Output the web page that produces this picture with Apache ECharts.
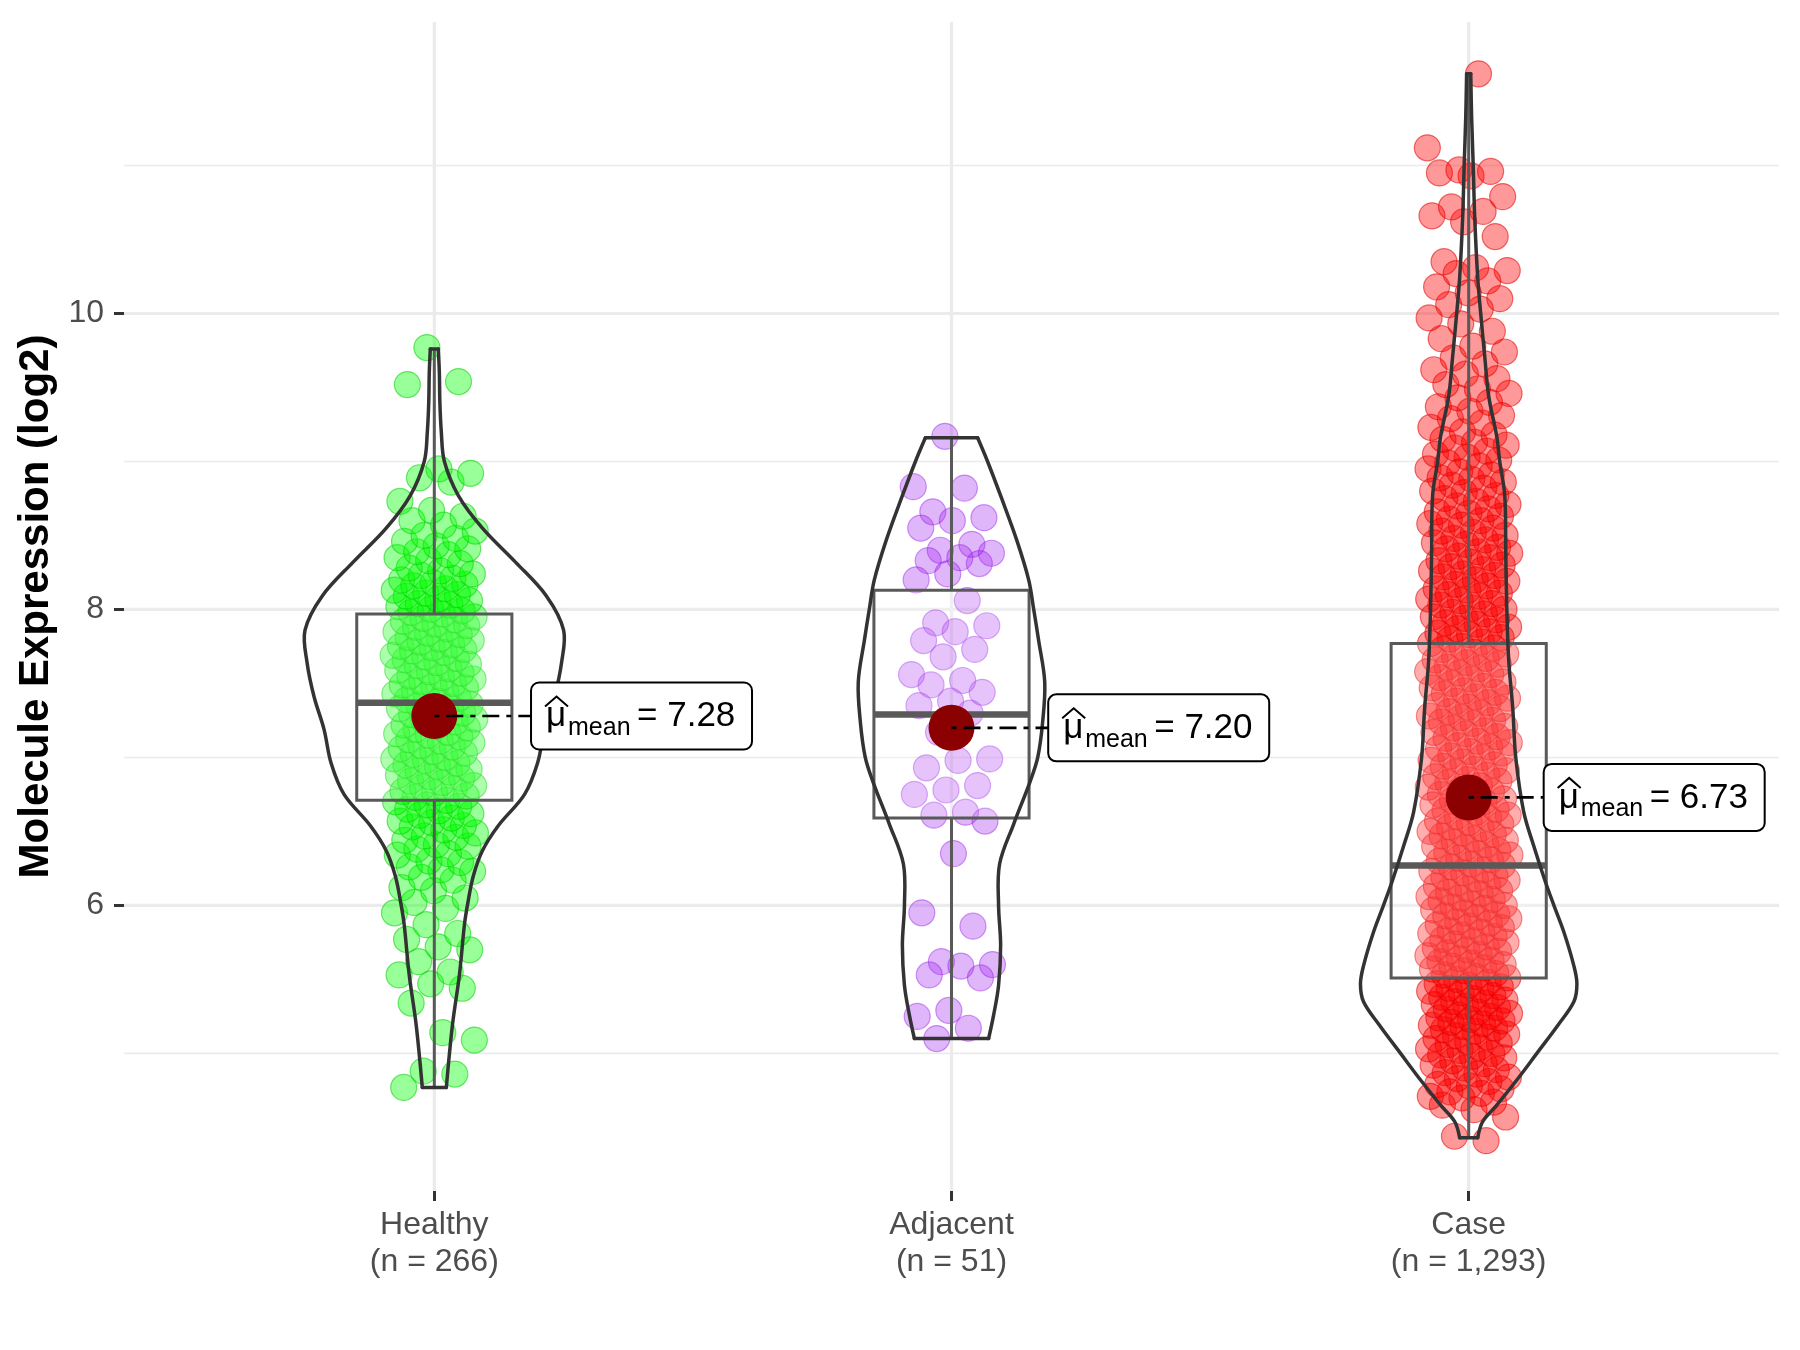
<!DOCTYPE html>
<html>
<head>
<meta charset="utf-8">
<script src="https://cdn.jsdelivr.net/npm/echarts@6/dist/echarts.min.js"></script>
<style>
html,body{margin:0;padding:0;background:#fff;}
#chart{width:1800px;height:1350px;}
</style>
</head>
<body>
<div id="chart"></div>
<script>
// ---------------- DATA ----------------
const categories = ['Healthy', 'Adjacent', 'Case'];
const sampleSizes = ['266', '51', '1,293'];
const yTicks = [6, 8, 10];
const yMinorGrid = [5, 7, 9, 11];

const means = [7.28, 7.20, 6.73];
const meanLabels = ['7.28', '7.20', '6.73'];

const boxQ1 = [6.71, 6.59, 5.51];
const boxMedian = [7.37, 7.29, 6.27];
const boxQ3 = [7.97, 8.13, 7.77];
const whiskerLow = [4.77, 5.10, 4.43];
const whiskerHigh = [9.76, 9.16, 11.62];

// violin outline: expression levels and relative density (1 = widest violin)
const healthyViolinY = [9.76, 9.6, 9.4, 9.2, 9.0, 8.77, 8.55, 8.32, 8.09, 7.86, 7.64, 7.41, 7.19, 6.96, 6.75, 6.54, 6.37, 6.2, 6.0, 5.87, 5.53, 5.19, 4.77];
const healthyViolinD = [0.031, 0.039, 0.043, 0.054, 0.078, 0.186, 0.372, 0.628, 0.868, 1.0, 0.984, 0.930, 0.853, 0.798, 0.698, 0.496, 0.372, 0.302, 0.256, 0.233, 0.194, 0.140, 0.093];
const adjacentViolinY = [9.16, 9.0, 8.75, 8.47, 8.20, 8.0, 7.79, 7.51, 7.24, 7.0, 6.83, 6.55, 6.28, 6.0, 5.73, 5.46, 5.26, 5.10];
const adjacentViolinD = [0.202, 0.279, 0.388, 0.504, 0.597, 0.636, 0.674, 0.721, 0.705, 0.667, 0.605, 0.481, 0.372, 0.364, 0.380, 0.364, 0.326, 0.287];
const caseViolinY = [11.62, 11.32, 11.0, 10.64, 10.24, 10.0, 9.71, 9.44, 9.17, 9.0, 8.77, 8.36, 8.0, 7.65, 7.33, 7.0, 6.63, 6.40, 6.17, 6.0, 5.82, 5.59, 5.47, 5.35, 5.19, 5.0, 4.82, 4.65, 4.54, 4.43];
const caseViolinD = [0.016, 0.023, 0.035, 0.047, 0.070, 0.093, 0.124, 0.155, 0.217, 0.240, 0.279, 0.287, 0.295, 0.310, 0.341, 0.364, 0.426, 0.504, 0.589, 0.659, 0.736, 0.814, 0.837, 0.814, 0.690, 0.527, 0.372, 0.217, 0.109, 0.070];

// observed expression values (read from the plotted points)
const healthyValues = [
4.77, 4.86, 4.88, 5.09, 5.14, 5.34, 5.44, 5.47, 5.53, 5.55, 5.62, 5.70, 5.72, 5.77, 5.81, 5.87, 5.95, 5.98,
6.02, 6.05, 6.10, 6.12, 6.17, 6.19, 6.23, 6.24,
6.26, 6.29, 6.30, 6.34, 6.35, 6.38, 6.40, 6.41, 6.44, 6.46, 6.47, 6.49,
6.51, 6.53, 6.54, 6.56, 6.57, 6.59, 6.61, 6.62, 6.64, 6.65, 6.67, 6.68, 6.70, 6.71, 6.73, 6.74,
6.76, 6.77, 6.79, 6.80, 6.81, 6.83, 6.84, 6.86, 6.87, 6.88, 6.90, 6.91, 6.92, 6.94, 6.95, 6.96, 6.98, 6.99,
7.00, 7.02, 7.03, 7.04, 7.06, 7.07, 7.08, 7.10, 7.11, 7.12, 7.14, 7.15, 7.16, 7.17, 7.19, 7.20, 7.21, 7.22, 7.24, 7.25,
7.26, 7.27, 7.29, 7.30, 7.31, 7.33, 7.34, 7.35, 7.36, 7.38, 7.39, 7.40, 7.42, 7.43, 7.44, 7.45, 7.47, 7.48, 7.49, 7.50,
7.51, 7.53, 7.54, 7.55, 7.57, 7.58, 7.59, 7.60, 7.62, 7.63, 7.64, 7.66, 7.67, 7.68, 7.69, 7.71, 7.72, 7.73, 7.74, 7.75,
7.76, 7.78, 7.79, 7.80, 7.81, 7.83, 7.84, 7.85, 7.87, 7.88, 7.89, 7.90, 7.92, 7.93, 7.94, 7.95, 7.97, 7.98, 7.99, 8.00,
8.02, 8.03, 8.04, 8.06, 8.07, 8.09, 8.10, 8.11, 8.13, 8.14, 8.16, 8.17, 8.18, 8.20, 8.21, 8.23, 8.24,
8.26, 8.28, 8.31, 8.33, 8.35, 8.37, 8.39, 8.41, 8.43, 8.46, 8.48, 8.50,
8.53, 8.57, 8.60, 8.63, 8.67, 8.73,
8.86, 8.89, 8.92, 8.95,
9.52, 9.54, 9.77
];
const adjacentValues = [
9.17, 8.83, 8.82, 8.66, 8.62, 8.60, 8.55, 8.44, 8.40, 8.38, 8.35, 8.33, 8.31, 8.24, 8.20, 8.06,
7.91, 7.89, 7.85, 7.79, 7.73, 7.68, 7.56, 7.52, 7.49, 7.44, 7.38, 7.35, 7.30, 7.17,
6.99, 6.98, 6.93, 6.81, 6.78, 6.75, 6.63, 6.61, 6.57, 6.35,
5.95, 5.86, 5.62, 5.60, 5.59, 5.53, 5.51, 5.29, 5.25, 5.17, 5.10
];
const caseValues = [
4.41, 4.44,
4.57, 4.62, 4.65, 4.67, 4.70, 4.71, 4.73, 4.74,
4.76, 4.78, 4.79, 4.81, 4.83, 4.84, 4.86, 4.87, 4.89, 4.90, 4.92, 4.93, 4.95, 4.97, 4.98, 4.99,
5.00, 5.02, 5.03, 5.04, 5.06, 5.07, 5.08, 5.10, 5.11, 5.12, 5.13, 5.15, 5.16, 5.17, 5.18, 5.19, 5.20, 5.21, 5.22, 5.23, 5.24,
5.25, 5.26, 5.27, 5.28, 5.30, 5.31, 5.32, 5.33, 5.34, 5.35, 5.36, 5.37, 5.38, 5.39, 5.41, 5.42, 5.43, 5.44, 5.45, 5.46, 5.47, 5.48,
5.50, 5.51, 5.52, 5.53, 5.54, 5.56, 5.57, 5.58, 5.59, 5.60, 5.61, 5.62, 5.63, 5.64, 5.66, 5.67, 5.68, 5.69, 5.70, 5.71, 5.72, 5.74,
5.75, 5.76, 5.77, 5.79, 5.80, 5.81, 5.82, 5.83, 5.85, 5.86, 5.87, 5.88, 5.89, 5.91, 5.92, 5.93, 5.94, 5.95, 5.97, 5.98, 5.99,
6.00, 6.01, 6.03, 6.04, 6.05, 6.06, 6.08, 6.09, 6.10, 6.11, 6.13, 6.14, 6.15, 6.17, 6.18, 6.19, 6.20, 6.22, 6.23, 6.24,
6.26, 6.27, 6.28, 6.30, 6.31, 6.32, 6.34, 6.35, 6.36, 6.37, 6.39, 6.40, 6.41, 6.43, 6.44, 6.45, 6.47, 6.48, 6.49,
6.50, 6.52, 6.53, 6.55, 6.56, 6.57, 6.59, 6.60, 6.61, 6.63, 6.64, 6.65, 6.67, 6.68, 6.70, 6.71, 6.72, 6.74,
6.75, 6.77, 6.78, 6.80, 6.81, 6.83, 6.84, 6.85, 6.87, 6.88, 6.90, 6.91, 6.92, 6.94, 6.95, 6.97, 6.98,
7.00, 7.01, 7.03, 7.04, 7.06, 7.07, 7.08, 7.10, 7.11, 7.13, 7.14, 7.16, 7.17, 7.18, 7.20, 7.21, 7.23, 7.24,
7.25, 7.27, 7.28, 7.30, 7.31, 7.33, 7.34, 7.35, 7.37, 7.38, 7.40, 7.41, 7.43, 7.44, 7.45, 7.47, 7.48,
7.50, 7.51, 7.53, 7.54, 7.56, 7.57, 7.58, 7.60, 7.61, 7.63, 7.64, 7.66, 7.67, 7.68, 7.70, 7.71, 7.73, 7.74,
7.75, 7.77, 7.78, 7.80, 7.81, 7.83, 7.84, 7.85, 7.87, 7.88, 7.90, 7.91, 7.93, 7.94, 7.95, 7.97, 7.98,
8.00, 8.01, 8.03, 8.04, 8.06, 8.07, 8.09, 8.10, 8.11, 8.13, 8.14, 8.16, 8.17, 8.19, 8.20, 8.22, 8.23, 8.24,
8.26, 8.27, 8.29, 8.30, 8.32, 8.33, 8.35, 8.36, 8.38, 8.39, 8.41, 8.42, 8.44, 8.45, 8.47, 8.48,
8.50, 8.52, 8.53, 8.55, 8.57, 8.58, 8.60, 8.61, 8.63, 8.65, 8.66, 8.68, 8.70, 8.71, 8.73,
8.75, 8.77, 8.79, 8.80, 8.82, 8.84, 8.86, 8.88, 8.89, 8.91, 8.93, 8.95, 8.97, 8.99,
9.01, 9.03, 9.05, 9.07, 9.09, 9.11, 9.13, 9.15, 9.18, 9.20, 9.23,
9.26, 9.29, 9.31, 9.34, 9.37, 9.40, 9.43, 9.46, 9.49,
9.52, 9.56, 9.59, 9.62, 9.66, 9.70, 9.74,
9.78, 9.83, 9.88, 9.93, 9.97,
10.03, 10.06, 10.10, 10.14, 10.18, 10.22, 10.27, 10.29, 10.31, 10.35, 10.52, 10.62, 10.66, 10.69, 10.72, 10.79,
10.93, 10.95, 10.96, 10.97, 11.12, 11.62
];

// ---------------- BUILD ----------------
const FONT = '"Liberation Sans", Arial, Helvetica, sans-serif';
const xLabels = categories.map((c, i) => c + '\n(n = ' + sampleSizes[i] + ')');
const groupValues = [healthyValues, adjacentValues, caseValues];
const violinY = [healthyViolinY, adjacentViolinY, caseViolinY];
const violinD = [healthyViolinD, adjacentViolinD, caseViolinD];
const pointColors = [
  {fill: 'rgba(0,255,0,0.40)', stroke: 'rgba(0,210,0,0.55)'},
  {fill: 'rgba(160,32,240,0.33)', stroke: 'rgba(150,30,230,0.45)'},
  {fill: 'rgba(255,0,0,0.40)', stroke: 'rgba(225,0,0,0.55)'}
];
const JITTER = 0.08;        // half jitter width in category units
const VIOLIN_HALF = 0.25;   // max half-width of violin (category units)
const BOX_HALF = 0.15;      // half width of box
const labelNudge = [0.187, 0.187, 0.145];

function jitterOffset(i, seed) {
  const f = (i * 0.6180339887 + seed) % 1;
  return (f - 0.5) * 2 * JITTER;
}

const gridRows = [];
yTicks.forEach(v => gridRows.push([v, 1, 0]));
yMinorGrid.forEach(v => gridRows.push([v, 0, 0]));
[1, 2, 3].forEach(v => gridRows.push([v, 1, 1]));

const pointSeries = groupValues.map((vals, g) => ({
  type: 'scatter',
  z: 2,
  symbol: 'circle',
  symbolSize: 26,
  silent: true,
  itemStyle: {color: pointColors[g].fill, borderColor: pointColors[g].stroke, borderWidth: 1.2, opacity: 1},
  data: vals.map((v, i) => [g + 1 + jitterOffset(i, 0.13 + g * 0.29), v])
}));

const option = {
  animation: false,
  backgroundColor: '#ffffff',
  textStyle: {fontFamily: FONT},
  grid: {left: 124, right: 21, top: 22, bottom: 159, containLabel: false},
  xAxis: {
    type: 'value', min: 0.4, max: 3.6,
    axisLine: {show: false},
    splitLine: {show: false},
    axisTick: {show: true, customValues: [1, 2, 3], length: 10, lineStyle: {color: '#333333', width: 3}},
    axisLabel: {
      customValues: [1, 2, 3],
      formatter: v => xLabels[Math.round(v) - 1],
      fontSize: 32, lineHeight: 37, color: '#4D4D4D', margin: 16, fontFamily: FONT
    }
  },
  yAxis: {
    type: 'value', min: 4.07, max: 11.97,
    axisLine: {show: false},
    splitLine: {show: false},
    axisTick: {show: true, customValues: yTicks, length: 10, lineStyle: {color: '#333333', width: 3}},
    axisLabel: {customValues: yTicks, fontSize: 32, color: '#4D4D4D', margin: 20, fontFamily: FONT},
    name: 'Molecule Expression (log2)',
    nameLocation: 'middle',
    nameGap: 58,
    nameTextStyle: {fontSize: 42, fontWeight: 'bold', color: '#000000', fontFamily: FONT}
  },
  series: [
    {
      type: 'custom', z: 1, silent: true,
      data: gridRows,
      renderItem: function (params, api) {
        const cs = params.coordSys;
        const v = api.value(0), major = api.value(1), kind = api.value(2);
        if (kind === 0) {
          const y = api.coord([1, v])[1];
          return {type: 'line', shape: {x1: cs.x, y1: y, x2: cs.x + cs.width, y2: y},
            style: {stroke: '#EBEBEB', lineWidth: major ? 3.2 : 1.6}};
        }
        const x = api.coord([v, 6])[0];
        return {type: 'line', shape: {x1: x, y1: cs.y, x2: x, y2: cs.y + cs.height},
          style: {stroke: '#EBEBEB', lineWidth: 3.2}};
      }
    },
    ...pointSeries,
    {
      type: 'custom', z: 3, silent: true,
      data: categories.map((c, i) => [i + 1, boxMedian[i]]),
      renderItem: function (params, api) {
        const i = params.dataIndex;
        const x = api.value(0);
        const cx = api.coord([x, 6])[0];
        const hw = api.size([BOX_HALF, 0])[0];
        const yQ1 = api.coord([x, boxQ1[i]])[1];
        const yQ3 = api.coord([x, boxQ3[i]])[1];
        const yMed = api.coord([x, boxMedian[i]])[1];
        const yLo = api.coord([x, whiskerLow[i]])[1];
        const yHi = api.coord([x, whiskerHigh[i]])[1];
        const col = '#595959';
        return {type: 'group', children: [
          {type: 'line', shape: {x1: cx, y1: yQ3, x2: cx, y2: yHi}, style: {stroke: col, lineWidth: 3}},
          {type: 'line', shape: {x1: cx, y1: yQ1, x2: cx, y2: yLo}, style: {stroke: col, lineWidth: 3}},
          {type: 'rect', shape: {x: cx - hw, y: yQ3, width: 2 * hw, height: yQ1 - yQ3},
            style: {fill: 'rgba(255,255,255,0.2)', stroke: col, lineWidth: 3}},
          {type: 'line', shape: {x1: cx - hw, y1: yMed, x2: cx + hw, y2: yMed}, style: {stroke: col, lineWidth: 6.5}}
        ]};
      }
    },
    {
      type: 'custom', z: 4, silent: true,
      data: categories.map((c, i) => [i + 1, means[i]]),
      renderItem: function (params, api) {
        const i = params.dataIndex;
        const x = api.value(0);
        const ys = violinY[i], ds = violinD[i];
        const maxHalf = api.size([VIOLIN_HALF, 0])[0];
        const left = [], right = [];
        for (let k = 0; k < ys.length; k++) {
          const p = api.coord([x, ys[k]]);
          left.push([p[0] - ds[k] * maxHalf, p[1]]);
          right.push([p[0] + ds[k] * maxHalf, p[1]]);
        }
        const n = ys.length - 1;
        const st = {stroke: '#333333', lineWidth: 3.5, fill: null, lineJoin: 'round', lineCap: 'round'};
        return {type: 'group', children: [
          {type: 'polyline', shape: {points: left, smooth: 0.35}, style: st},
          {type: 'polyline', shape: {points: right, smooth: 0.35}, style: st},
          {type: 'line', shape: {x1: left[0][0], y1: left[0][1], x2: right[0][0], y2: right[0][1]}, style: st},
          {type: 'line', shape: {x1: left[n][0], y1: left[n][1], x2: right[n][0], y2: right[n][1]}, style: st}
        ]};
      }
    },
    {
      type: 'custom', z: 5, silent: true,
      data: categories.map((c, i) => [i + 1, means[i]]),
      renderItem: function (params, api) {
        const i = params.dataIndex;
        const p = api.coord([api.value(0), api.value(1)]);
        const px = p[0], py = p[1];
        const bx = px + api.size([labelNudge[i], 0])[0];
        return {type: 'group', children: [
          {type: 'circle', shape: {cx: px, cy: py, r: 23}, style: {fill: '#8B0000'}},
          {type: 'line', shape: {x1: px, y1: py, x2: bx, y2: py},
            style: {stroke: '#000000', lineWidth: 2.6, lineDash: [5, 7, 17, 7]}},
          {type: 'rect', shape: {x: bx, y: py - 33.5, width: 221, height: 67, r: 8},
            style: {fill: '#ffffff', stroke: '#000000', lineWidth: 2}},
          {type: 'polyline', shape: {points: [[bx + 14, py - 9.5], [bx + 25.5, py - 19.5], [bx + 37, py - 9.5]]},
            style: {stroke: '#000000', lineWidth: 2, fill: null}},
          {type: 'text', x: bx + 15, y: py + 0.5,
            style: {text: 'μ', fontSize: 35, fontFamily: FONT, fill: '#000000', align: 'left', verticalAlign: 'middle'}},
          {type: 'text', x: bx + 37, y: py + 12,
            style: {text: 'mean', fontSize: 25, fontFamily: FONT, fill: '#000000', align: 'left', verticalAlign: 'middle'}},
          {type: 'text', x: bx + 106, y: py + 0.5,
            style: {text: '= ' + meanLabels[i], fontSize: 35, fontFamily: FONT, fill: '#000000', align: 'left', verticalAlign: 'middle'}}
        ]};
      }
    }
  ]
};

const chart = echarts.init(document.getElementById('chart'), null, {renderer: 'canvas'});
chart.setOption(option);
</script>
</body>
</html>
